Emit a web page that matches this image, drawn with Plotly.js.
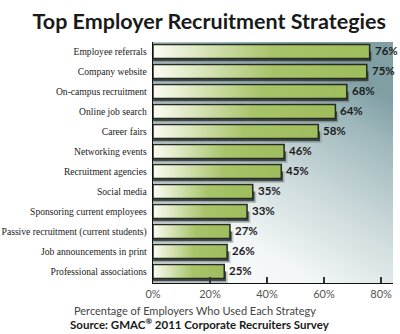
<!DOCTYPE html>
<html>
<head>
<meta charset="utf-8">
<script src="https://cdn.plot.ly/plotly-3.0.1.min.js"></script>
<style>html,body{margin:0;padding:0;background:#fff;}#chart{width:400px;height:334px;}</style>
</head>
<body>
<div id="chart"></div>
<script>
const categories = [
  "Employee referrals",
  "Company website",
  "On-campus recruitment",
  "Online job search",
  "Career fairs",
  "Networking events",
  "Recruitment agencies",
  "Social media",
  "Sponsoring current employees",
  "Passive recruitment (current students)",
  "Job announcements in print",
  "Professional associations"
];
const values = [76, 75, 68, 64, 58, 46, 45, 35, 33, 27, 26, 25];
const xTickVals = [0, 20, 40, 60, 80];
const xTickText = ["0%", "20%", "40%", "60%", "80%"];

const traces = [];
const half = 0.35;
values.forEach(function (v, i) {
  // shadow
  traces.push({
    type: "scatter", mode: "lines", hoverinfo: "skip", showlegend: false,
    x: [0, v + 1.2, v + 1.2, 0, 0],
    y: [i, i, i + half + 0.22, i + half + 0.22, i],
    fill: "toself", fillcolor: "rgba(140,155,155,0.55)", line: {width: 0}
  });
  traces.push({
    type: "scatter", mode: "lines", hoverinfo: "skip", showlegend: false,
    x: [0, v + 0.6, v + 0.6, 0, 0],
    y: [i, i, i + half + 0.14, i + half + 0.14, i],
    fill: "toself", fillcolor: "rgba(45,55,55,0.85)", line: {width: 0}
  });
  // bar
  traces.push({
    type: "scatter", mode: "lines", hoverinfo: "skip", showlegend: false,
    x: [0, v, v, 0, 0],
    y: [i - half, i - half, i + half, i + half, i - half],
    fill: "toself",
    fillgradient: {type: "horizontal", colorscale: [[0, "#fbfcf3"], [0.55, "#a8c46a"], [1, "#9ebd5c"]]},
    line: {color: "#262a20", width: 1.5}
  });
});

const valueLabels = values.map(function (v, i) {
  return {
    x: v, y: i, xref: "x", yref: "y", text: v + "%",
    xanchor: "left", yanchor: "middle", xshift: 3, yshift: 1, showarrow: false,
    font: {family: "Lato", size: 11.5, color: "#1e1e1e", weight: 700}
  };
});

const bgSvg = "<svg xmlns='http://www.w3.org/2000/svg' width='240' height='241' preserveAspectRatio='none'>" +
  "<defs><linearGradient id='g' x1='0' y1='1' x2='0.6' y2='0'>" +
  "<stop offset='0' stop-color='#ffffff'/><stop offset='0.3' stop-color='#f2f6f6'/>" +
  "<stop offset='0.6' stop-color='#c9d7d9'/><stop offset='0.85' stop-color='#9fb8bb'/>" +
  "<stop offset='1' stop-color='#7f9fa4'/>" +
  "</linearGradient></defs><rect width='240' height='241' fill='url(#g)'/></svg>";

const layout = {
  width: 400, height: 334,
  margin: {l: 153, r: 7, t: 42, b: 51},
  paper_bgcolor: "#ffffff",
  plot_bgcolor: "rgba(0,0,0,0)",
  showlegend: false,
  title: {
    text: "Top Employer Recruitment Strategies",
    font: {family: "Lato", size: 21.5, color: "#1a1a1a", weight: 700},
    x: 0.523, xanchor: "center", y: 0.937, yanchor: "middle"
  },
  xaxis: {
    range: [0, 84.2], fixedrange: true,
    tickvals: xTickVals, ticktext: xTickText,
    showgrid: false, zeroline: false,
    showline: true, linecolor: "#111", linewidth: 1.3,
    ticks: "inside", ticklen: 6, tickwidth: 1.2, tickcolor: "#333",
    tickfont: {family: "Lato", size: 11, color: "#555"}
  },
  yaxis: {
    range: [11.575, -0.475], fixedrange: true,
    tickvals: categories.map(function (c, i) { return i; }), ticktext: categories,
    showgrid: false, zeroline: false,
    showline: true, linecolor: "#111", linewidth: 1.3,
    ticks: "", ticklabelstandoff: 3,
    tickfont: {family: "Liberation Sans Narrow", size: 9.6, color: "#1a1a1a"}
  },
  images: [{
    source: "data:image/svg+xml;charset=utf-8," + encodeURIComponent(bgSvg),
    xref: "paper", yref: "paper", x: 0, y: 1, sizex: 1, sizey: 1,
    sizing: "stretch", xanchor: "left", yanchor: "top", layer: "below"
  }],
  annotations: valueLabels.concat([
    {
      text: "Percentage of Employers Who Used Each Strategy",
      xref: "paper", yref: "paper", x: 0.175, y: -0.116, xanchor: "center", yanchor: "middle",
      showarrow: false, font: {family: "Lato", size: 11, color: "#444"}
    },
    {
      text: "Source: GMAC<sup>®</sup> 2011 Corporate Recruiters Survey",
      xref: "paper", yref: "paper", x: 0.196, y: -0.17, xanchor: "center", yanchor: "middle",
      showarrow: false, font: {family: "Lato", size: 11.5, color: "#1a1a1a", weight: 700}
    }
  ])
};

Plotly.newPlot("chart", traces, layout, {staticPlot: true, displayModeBar: false});
</script>
</body>
</html>
